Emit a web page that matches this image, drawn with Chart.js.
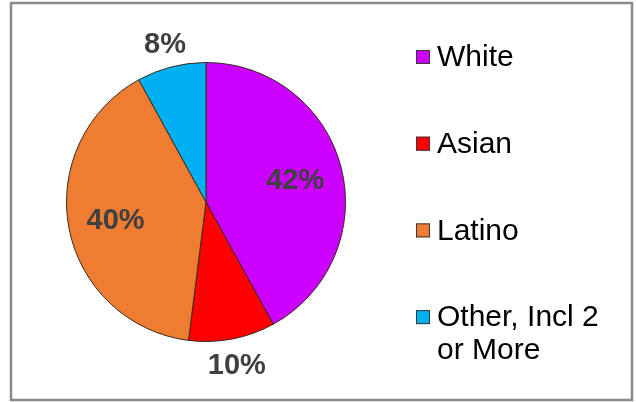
<!DOCTYPE html>
<html>
<head>
<meta charset="utf-8">
<script src="https://cdn.jsdelivr.net/npm/chart.js@4/dist/chart.umd.min.js"></script>
<style>
  html, body { margin: 0; padding: 0; background: #fff; }
  #wrap { width: 636px; height: 402px; position: relative; }
</style>
</head>
<body>
<div id="wrap"><canvas id="c" width="636" height="402"></canvas></div>
<script>
// Enrollment by ethnicity (percent of total)
const categories = ['White', 'Asian', 'Latino', ['Other, Incl 2', 'or More']];
const shares = [42, 10, 40, 8];
const sliceColors = ['#CC00FF', '#FF0000', '#EE7D32', '#00B0F0'];

const FONT = '"Liberation Sans", Arial, sans-serif';

// Outer frame around the whole figure
const framePlugin = {
  id: 'frame',
  beforeDraw(chart) {
    const ctx = chart.ctx;
    ctx.save();
    ctx.fillStyle = '#ffffff';
    ctx.fillRect(0, 0, chart.width, chart.height);
    ctx.strokeStyle = '#8a8a8a';
    ctx.lineWidth = 2.5;
    ctx.strokeRect(11, 3, 621, 397);
    ctx.restore();
  }
};

// Percent labels: large slices get the label inside, small ones just outside the rim
const pctLabels = {
  id: 'pctLabels',
  afterDatasetsDraw(chart) {
    const ctx = chart.ctx;
    const meta = chart.getDatasetMeta(0);
    const values = chart.data.datasets[0].data;
    ctx.save();
    ctx.font = 'bold 29px ' + FONT;
    ctx.fillStyle = '#404040';
    ctx.textAlign = 'center';
    ctx.textBaseline = 'middle';
    meta.data.forEach((arc, i) => {
      const p = arc.getProps(['x', 'y', 'startAngle', 'endAngle', 'outerRadius'], true);
      const mid = (p.startAngle + p.endAngle) / 2;
      const v = values[i];
      const f = v < 15 ? 1.18 : 0.66;
      ctx.fillText(v + '%', p.x + Math.cos(mid) * p.outerRadius * f,
                            p.y + 2 + Math.sin(mid) * p.outerRadius * f);
    });
    ctx.restore();
  }
};

// Legend on the right: square swatch plus (possibly multi-line) label
const sideLegend = {
  id: 'sideLegend',
  afterDraw(chart) {
    const ctx = chart.ctx;
    const ds = chart.data.datasets[0];
    const x0 = 416, box = 14, textX = 437, top = 57, step = 86.7, lineH = 33;
    ctx.save();
    ctx.font = '30px ' + FONT;
    ctx.textAlign = 'left';
    ctx.textBaseline = 'middle';
    chart.data.labels.forEach((lab, i) => {
      const y = top + i * step;
      ctx.fillStyle = ds.backgroundColor[i];
      ctx.fillRect(x0, y - box / 2, box, box);
      ctx.strokeStyle = '#3a3a3a';
      ctx.lineWidth = 1;
      ctx.strokeRect(x0 + 0.5, y - box / 2 + 0.5, box - 1, box - 1);
      ctx.fillStyle = '#000000';
      const lines = Array.isArray(lab) ? lab : [lab];
      lines.forEach((t, k) => ctx.fillText(t, textX, y + 1 + k * lineH));
    });
    ctx.restore();
  }
};

new Chart(document.getElementById('c'), {
  type: 'pie',
  data: {
    labels: categories,
    datasets: [{
      data: shares,
      backgroundColor: sliceColors,
      borderColor: '#3a2a20',
      borderWidth: 1
    }]
  },
  options: {
    responsive: false,
    animation: false,
    layout: { padding: { left: 66, right: 290, top: 62, bottom: 60 } },
    plugins: {
      legend: { display: false },
      tooltip: { enabled: false }
    }
  },
  plugins: [framePlugin, pctLabels, sideLegend]
});
</script>
</body>
</html>
